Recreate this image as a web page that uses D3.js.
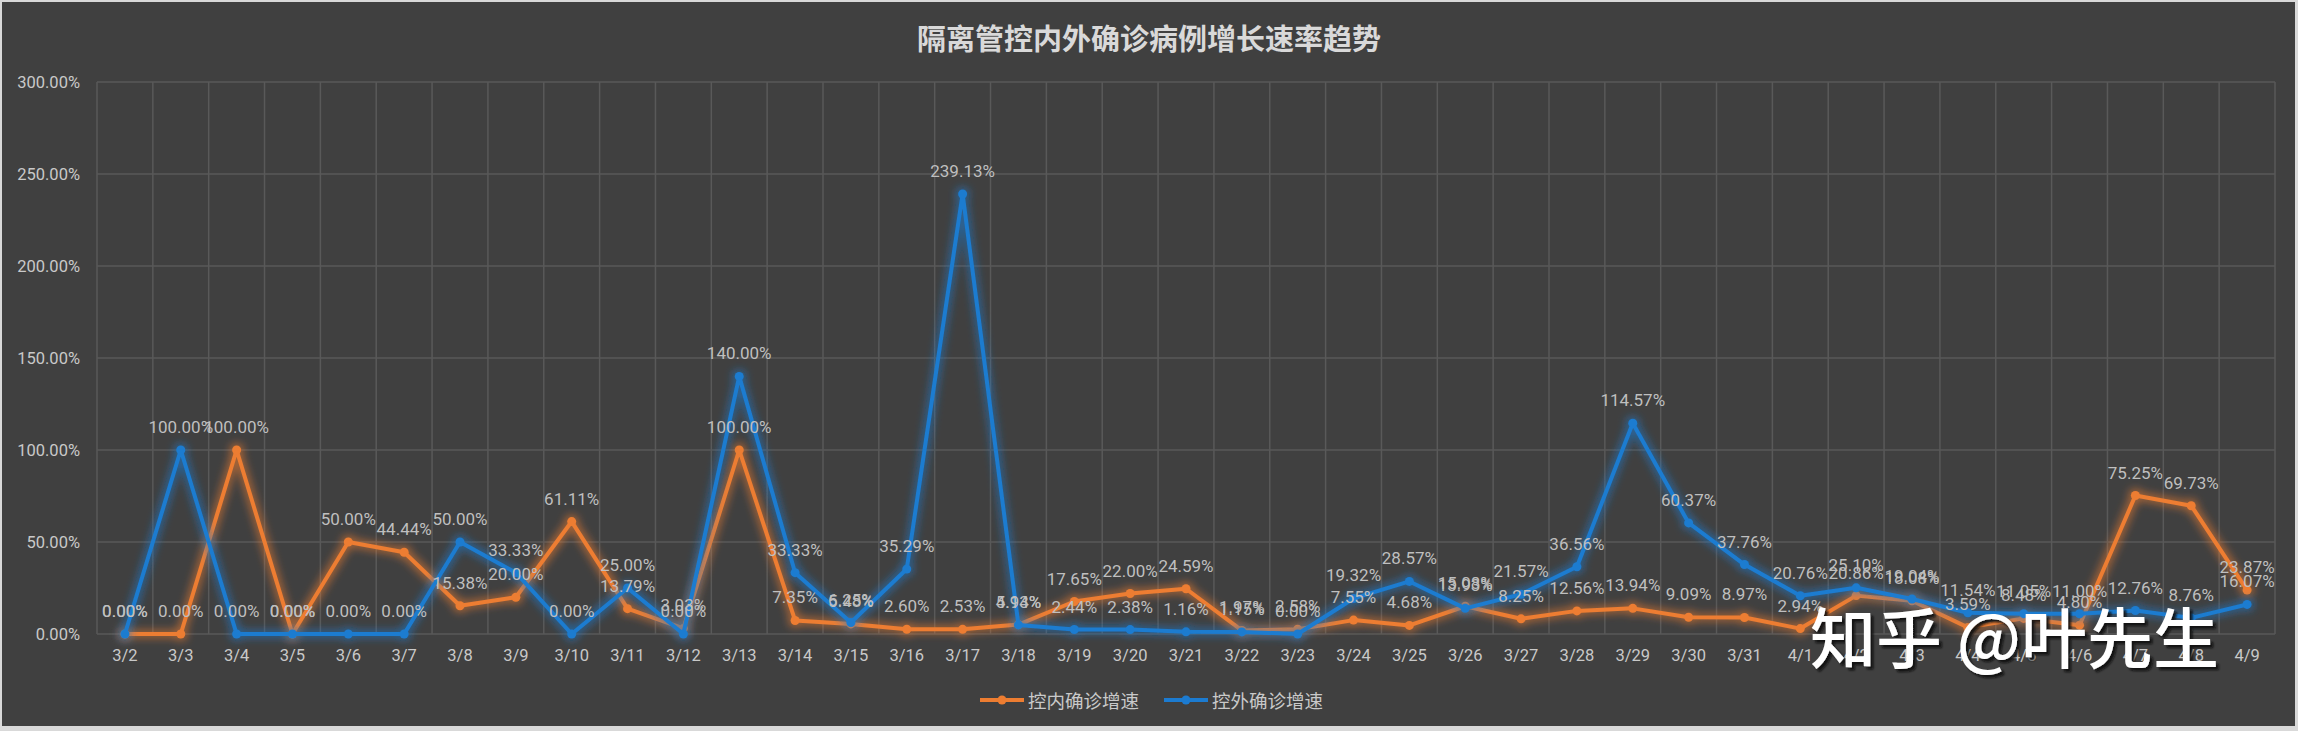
<!DOCTYPE html>
<html>
<head>
<meta charset="utf-8">
<script src="https://cdn.jsdelivr.net/npm/d3@7"></script>
<style>
  html, body { margin: 0; padding: 0; background: #d9d9d9; }
  svg { display: block; }
</style>
</head>
<body>
<svg id="chart" width="2298" height="731"></svg>
<script>
const categories = ["3/2","3/3","3/4","3/5","3/6","3/7","3/8","3/9","3/10","3/11","3/12","3/13","3/14","3/15","3/16","3/17","3/18","3/19","3/20","3/21","3/22","3/23","3/24","3/25","3/26","3/27","3/28","3/29","3/30","3/31","4/1","4/2","4/3","4/4","4/5","4/6","4/7","4/8","4/9"];
const insideGrowth = [0.00,0.00,100.00,0.00,50.00,44.44,15.38,20.00,61.11,13.79,3.03,100.00,7.35,5.48,2.60,2.53,5.13,17.65,22.00,24.59,1.97,2.58,7.55,4.68,15.08,8.25,12.56,13.94,9.09,8.97,2.94,20.86,18.08,3.59,8.48,4.80,75.25,69.73,23.87];
const outsideGrowth = [0.00,100.00,0.00,0.00,0.00,0.00,50.00,33.33,0.00,25.00,0.00,140.00,33.33,6.25,35.29,239.13,4.94,2.44,2.38,1.16,1.15,0.00,19.32,28.57,13.93,21.57,36.56,114.57,60.37,37.76,20.76,25.10,19.04,11.54,11.05,11.00,12.76,8.76,16.07];
const seriesNames = ["控内确诊增速","控外确诊增速"];
const seriesColors = ["#ED7D31","#1C7BD0"];
const yTicks = [0,50,100,150,200,250,300];
const title = "隔离管控内外确诊病例增长速率趋势";
const watermark = "知乎 @叶先生";

const svg = d3.select("#chart");
const W = 2298, H = 731;
const M = {left: 97, right: 2275, top: 82, bottom: 634};

svg.append("rect").attr("x",0).attr("y",0).attr("width",W).attr("height",H).attr("fill","#d9d9d9");
svg.append("rect").attr("x",2).attr("y",2).attr("width",W-5).attr("height",H-7).attr("fill","#404040");

const defs = svg.append("defs");
seriesColors.forEach((c,i)=>{
  const f = defs.append("filter").attr("id","glow"+i)
    .attr("x","-20%").attr("y","-20%").attr("width","140%").attr("height","140%");
  f.append("feMorphology").attr("in","SourceGraphic").attr("operator","dilate").attr("radius",2).attr("result","d");
  f.append("feGaussianBlur").attr("in","d").attr("stdDeviation",4.5).attr("result","b");
  f.append("feComponentTransfer").attr("in","b").attr("result","b2")
    .append("feFuncA").attr("type","linear").attr("slope",0.6);
  const m = f.append("feMerge");
  m.append("feMergeNode").attr("in","b2");
  m.append("feMergeNode").attr("in","SourceGraphic");
});
const shadow = defs.append("filter").attr("id","wmshadow").attr("x","-10%").attr("y","-10%").attr("width","120%").attr("height","130%");
shadow.append("feDropShadow").attr("dx",3).attr("dy",3).attr("stdDeviation",1.2).attr("flood-color","#111").attr("flood-opacity",0.9);

const x = d3.scaleBand().domain(categories).range([M.left, M.right]).padding(0);
const y = d3.scaleLinear().domain([0,300]).range([M.bottom, M.top]);

const grid = svg.append("g");
grid.selectAll(".hg").data(yTicks).enter().append("line")
  .attr("x1",M.left).attr("x2",M.right)
  .attr("y1",d=>y(d)).attr("y2",d=>y(d))
  .attr("stroke","#595959").attr("stroke-width",1.5);
const bounds = categories.map(c=>x(c)).concat([M.right]);
grid.selectAll(".vg").data(bounds).enter().append("line")
  .attr("x1",d=>d).attr("x2",d=>d)
  .attr("y1",M.top).attr("y2",M.bottom)
  .attr("stroke","#595959").attr("stroke-width",1.5);

const yAxis = d3.axisLeft(y).tickValues(yTicks).tickSize(0).tickPadding(0)
  .tickFormat(d=>d.toFixed(2)+"%");
const ya = svg.append("g").attr("transform","translate(80,0)").call(yAxis);
ya.select(".domain").remove();
ya.selectAll("text").attr("fill","#c9c9c9").style("font-family","Roboto, 'Noto Sans', sans-serif").style("font-size","16.5px");

const xAxis = d3.axisBottom(x).tickSize(0).tickPadding(0);
const xa = svg.append("g").attr("transform","translate(0,649)").call(xAxis);
xa.select(".domain").remove();
xa.selectAll("text").attr("fill","#c9c9c9").style("font-family","Roboto, 'Noto Sans', sans-serif").style("font-size","16.5px");

svg.append("text").attr("x",1149).attr("y",37).attr("text-anchor","middle").attr("dominant-baseline","central")
  .attr("fill","#d9d9d9").style("font-family","'Noto Sans CJK SC', sans-serif").style("font-weight","bold").style("font-size","29px")
  .text(title);

const seriesData = [insideGrowth, outsideGrowth];
const cx = c => x(c) + x.bandwidth()/2;
const line = d3.line().x((d,i)=>cx(categories[i])).y(d=>y(d));

seriesData.forEach((vals,si)=>{
  const g = svg.append("g").attr("filter","url(#glow"+si+")");
  g.append("path").datum(vals).attr("d",line).attr("fill","none")
    .attr("stroke",seriesColors[si]).attr("stroke-width",4).attr("stroke-linejoin","round");
  g.selectAll("circle").data(vals).enter().append("circle")
    .attr("cx",(d,i)=>cx(categories[i])).attr("cy",d=>y(d)).attr("r",4.5)
    .attr("fill",seriesColors[si]);
});

seriesData.forEach((vals,si)=>{
  svg.append("g").selectAll("text").data(vals).enter().append("text")
    .attr("x",(d,i)=>cx(categories[i])).attr("y",d=>y(d)-17)
    .attr("text-anchor","middle").attr("fill","#bfbfbf")
    .style("font-family","Roboto, 'Noto Sans', sans-serif").style("font-size","17px")
    .text(d=>d.toFixed(2)+"%");
});

const leg = svg.append("g");
const legItems = [{x0:980, tx:1028}, {x0:1164, tx:1212}];
legItems.forEach((it,i)=>{
  leg.append("line").attr("x1",it.x0).attr("x2",it.x0+44).attr("y1",700).attr("y2",700)
    .attr("stroke",seriesColors[i]).attr("stroke-width",4);
  leg.append("circle").attr("cx",it.x0+22).attr("cy",700).attr("r",4.5).attr("fill",seriesColors[i]);
  leg.append("text").attr("x",it.tx).attr("y",700).attr("dominant-baseline","central")
    .attr("fill","#c9c9c9").style("font-family","'Noto Sans CJK SC', sans-serif").style("font-size","18.5px")
    .text(seriesNames[i]);
});

svg.append("text").attr("x",1810).attr("y",634).attr("dominant-baseline","central")
  .attr("fill","#ffffff").attr("filter","url(#wmshadow)")
  .style("font-family","'Noto Sans CJK SC', sans-serif").style("font-weight","500").style("font-size","66px")
  .text(watermark);
</script>
</body>
</html>
